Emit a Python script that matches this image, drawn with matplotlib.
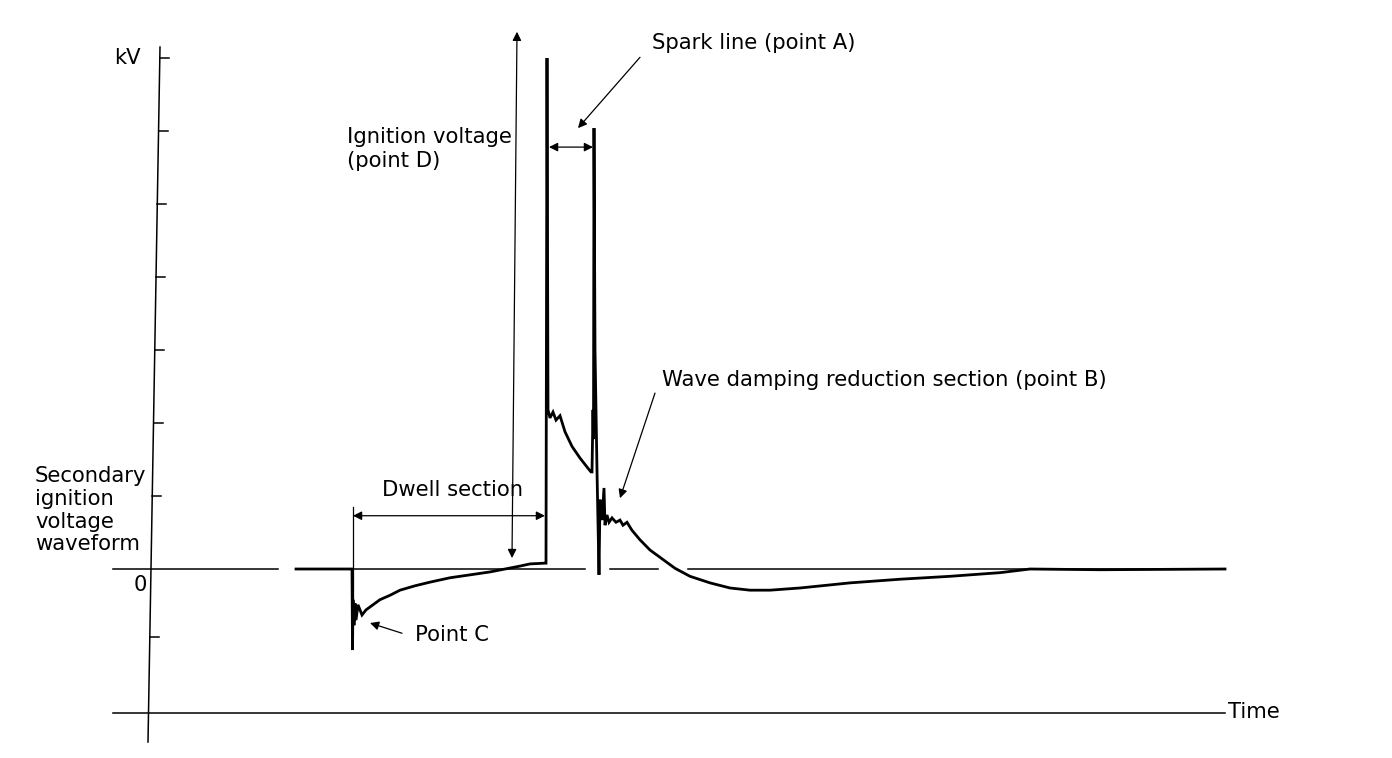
import numpy as np
import matplotlib
matplotlib.use("Agg")
import matplotlib.pyplot as plt

plt.rcParams['font.family'] = ['DejaVu Sans']

# Secondary ignition waveform: time (arbitrary units) and voltage (kV divisions)
wave_t = [14.6, 20.2, 20.25, 20.3, 20.4, 20.5, 20.6, 20.8, 21.2, 21.6, 22.0,
          23.0, 24.0, 25.0, 26.5, 28.0, 30.0, 32.0, 34.0, 35.5, 37.0, 38.0,
          39.5, 39.6, 39.7, 39.8, 40.0, 40.3, 40.6, 41.0, 41.5, 42.2, 43.0,
          43.8, 44.1, 44.2, 44.3, 44.35, 44.4, 44.5, 44.7, 44.9, 45.0, 45.2,
          45.4, 45.5, 45.7, 45.9, 46.2, 46.6, 47.0, 47.3, 47.7, 48.2, 49.0,
          50.0, 51.0, 52.5, 54.0, 56.0, 58.0, 60.0, 62.0, 65.0, 70.0, 75.0,
          80.0, 85.0, 88.0, 95.0, 107.5]
wave_v = [0.0, 0.0, -1.11, -0.42, -0.77, -0.47, -0.70, -0.49, -0.63, -0.56, -0.52,
          -0.42, -0.36, -0.29, -0.23, -0.18, -0.12, -0.08, -0.04, 0.0, 0.04, 0.07,
          0.08, 0.08, 7.0, 2.18, 2.07, 2.15, 2.04, 2.10, 1.88, 1.68, 1.52,
          1.38, 1.33, 1.33, 2.18, 1.78, 6.04, 3.0, 1.35, -0.08, 0.95, 0.67,
          1.11, 0.60, 0.74, 0.64, 0.70, 0.64, 0.67, 0.60, 0.64, 0.53, 0.40,
          0.26, 0.16, 0.01, -0.10, -0.19, -0.26, -0.29, -0.29, -0.26, -0.19, -0.14,
          -0.10, -0.05, 0.0, -0.01, 0.0]

# kV tick levels on the vertical axis
kv_ticks = [7, 6, 5, 4, 3, 2, 1, -0.93]

# zero reference line pieces (start, end)
zero_segments = [(-3.7, 12.8), (14.6, 43.5), (46.0, 50.8), (53.8, 107.5)]


def axis_x(v):
    # vertical axis is drawn slightly slanted, like the scanned original
    top_t, top_v, bot_t, bot_v = 1.0, 7.15, -0.2, -2.37
    return bot_t + (v - bot_v) * (top_t - bot_t) / (top_v - bot_v)


def arrow(ax, start, end, style='-|>'):
    ax.annotate('', xy=end, xytext=start,
                arrowprops=dict(arrowstyle=style, color='black', lw=0.9,
                                mutation_scale=13, shrinkA=0, shrinkB=0))


def main():
    fig = plt.figure(figsize=(13.92, 7.58), dpi=100)
    ax = fig.add_axes([0, 0, 1, 1])
    ax.set_xlim(-15.0, 124.2)
    ax.set_ylim(-2.589, 7.795)
    ax.axis('off')

    fs = 15.2

    # vertical axis and ticks
    ax.plot([1.0, -0.2], [7.15, -2.37], color='black', lw=1.1)
    for v in kv_ticks:
        x0 = axis_x(v)
        ax.plot([x0, x0 + 0.9], [v, v], color='black', lw=1.1)

    # time axis
    ax.plot([-3.7, 107.5], [-1.97, -1.97], color='black', lw=1.1)

    # zero line
    for a, b in zero_segments:
        ax.plot([a, b], [0, 0], color='black', lw=1.1)

    # waveform
    ax.plot(wave_t, wave_v, color='black', lw=2.0, solid_joinstyle='miter')

    # labels
    ax.text(-0.9, 7.0, 'kV', fontsize=fs, ha='right', va='center')
    ax.text(-0.3, -0.22, '0', fontsize=fs, ha='right', va='center')
    ax.text(-11.5, 1.41, 'Secondary\nignition\nvoltage\nwaveform', fontsize=fs,
            ha='left', va='top', linespacing=1.17)
    ax.text(19.7, 6.06, 'Ignition voltage\n(point D)', fontsize=fs,
            ha='left', va='top', linespacing=1.28)
    ax.text(50.2, 7.2, 'Spark line (point A)', fontsize=fs, ha='left', va='center')
    ax.text(51.2, 2.59, 'Wave damping reduction section (point B)', fontsize=fs,
            ha='left', va='center')
    ax.text(23.2, 1.08, 'Dwell section', fontsize=fs, ha='left', va='center')
    ax.text(26.5, -0.90, 'Point C', fontsize=fs, ha='left', va='center')
    ax.text(107.8, -1.96, 'Time', fontsize=fs, ha='left', va='center')

    # ignition voltage arrow
    arrow(ax, (36.2, 0.15), (36.7, 7.36), style='<|-|>')

    # dwell section
    arrow(ax, (20.3, 0.73), (39.5, 0.73), style='<|-|>')
    ax.plot([20.3, 20.3], [0.85, -0.42], color='black', lw=0.9)

    # spark line duration and pointer
    arrow(ax, (39.9, 5.78), (44.3, 5.78), style='<|-|>')
    arrow(ax, (49.0, 7.01), (42.8, 6.04))

    # wave damping pointer
    arrow(ax, (50.5, 2.41), (47.0, 0.97))

    # point C pointer
    arrow(ax, (25.2, -0.88), (22.0, -0.74))

    fig.savefig('out.png', dpi=100)


if __name__ == "__main__":
    main()
